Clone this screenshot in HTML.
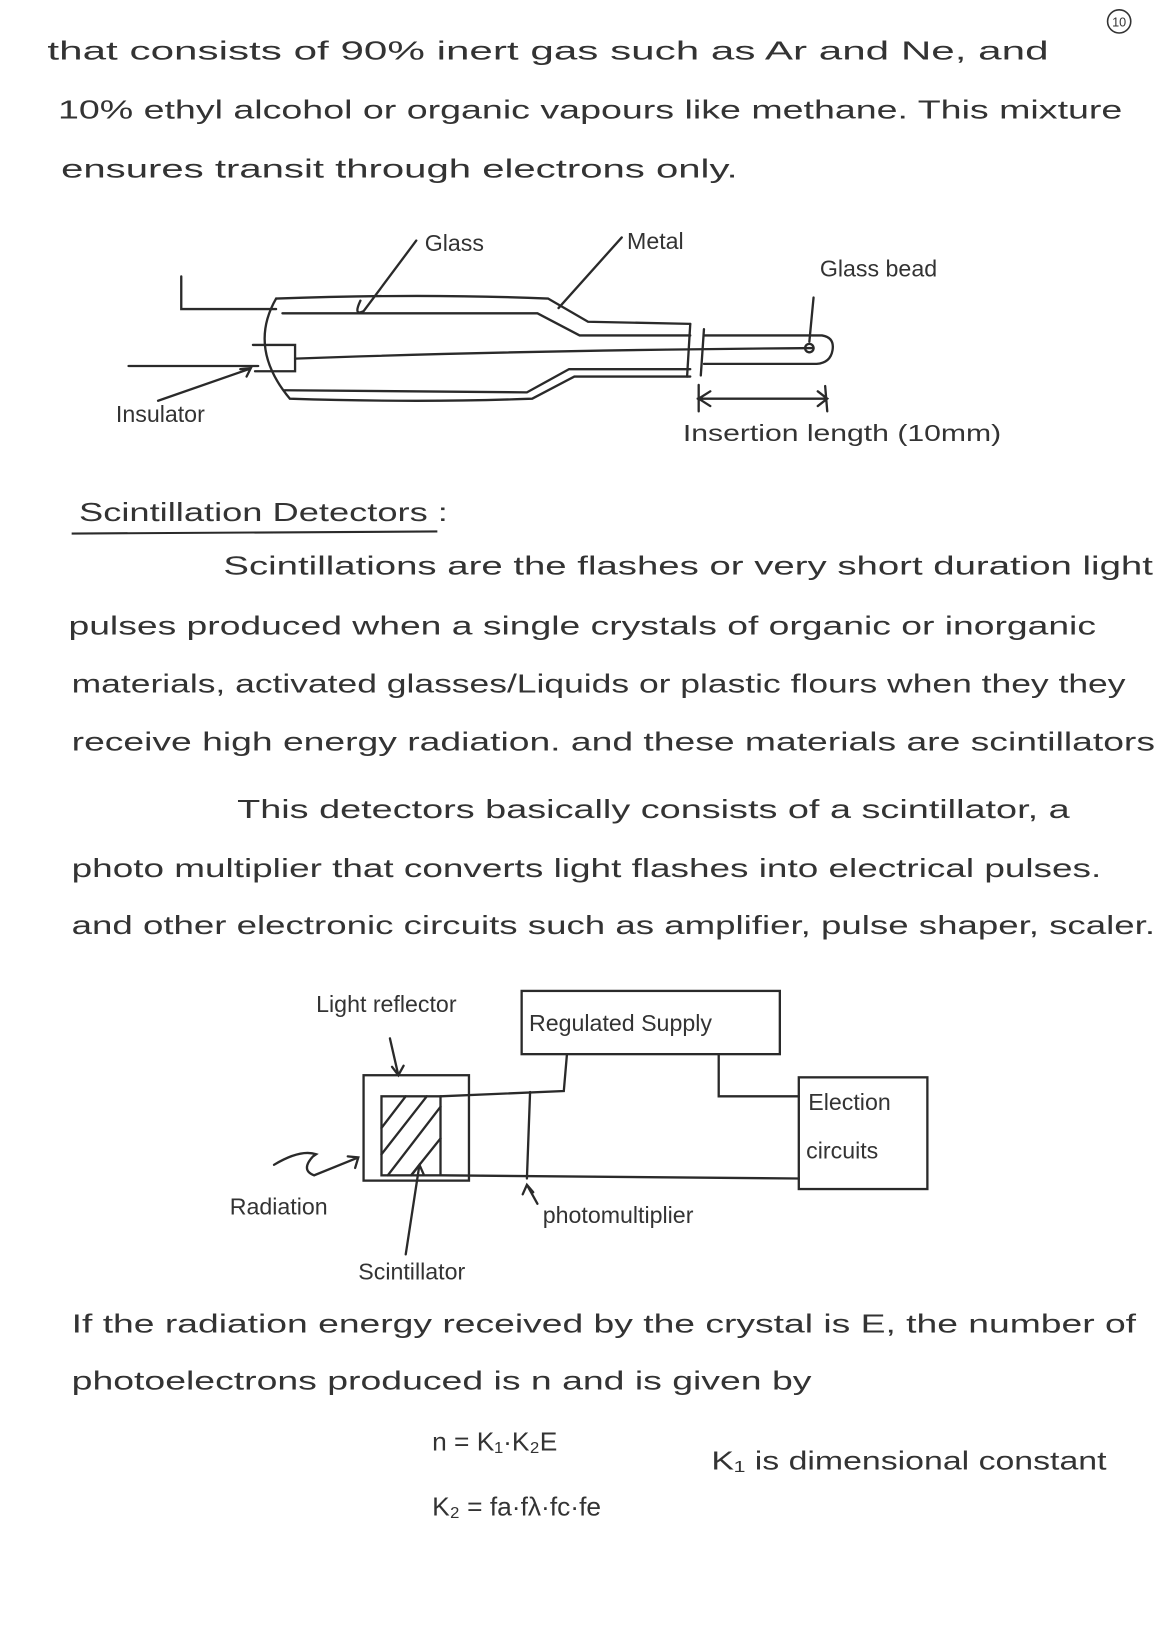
<!DOCTYPE html>
<html><head><meta charset="utf-8"><style>html,body{margin:0;padding:0;background:#fff}svg{display:block}</style></head>
<body>
<svg width="1155" height="1652" viewBox="0 0 1096 1567" xmlns="http://www.w3.org/2000/svg" font-family="Liberation Sans, sans-serif" fill="#333">
<rect width="1096" height="1567" fill="#fff"/>
<g font-size="25">
<text x="45" y="56" textLength="950" lengthAdjust="spacingAndGlyphs">that consists of 90% inert gas such as Ar and Ne, and</text>
<text x="55" y="112" textLength="1010" lengthAdjust="spacingAndGlyphs">10% ethyl alcohol or organic vapours like methane. This mixture</text>
<text x="58" y="168" textLength="642" lengthAdjust="spacingAndGlyphs">ensures transit through electrons only.</text>
</g>
<circle cx="1062" cy="20" r="11" fill="none" stroke="#333" stroke-width="1.5"/>
<text x="1062" y="25" font-size="12" text-anchor="middle">10</text>

<g fill="none" stroke="#2a2a2a" stroke-width="2.2" stroke-linecap="round">
<path d="M172 262 L172 293 L262 293"/>
<path d="M262 283 Q400 278 520 283 L558 305 L655 307"/>
<path d="M268 297 L510 297 L550 318 L655 318"/>
<path d="M270 370 L500 372 L540 350 L655 350"/>
<path d="M262 283 Q235 330 275 378 Q400 382 505 378 L545 357 L655 357"/>
<path d="M655 307 L652 357 M668 312 L665 356"/>
<path d="M668 318 L780 318 Q792 320 790 332 Q788 344 775 345 L668 345"/>
<path d="M122 347 L245 347 M280 340 Q500 332 772 330"/>
<path d="M240 327 L280 327 L280 352 L242 352"/>
<path d="M395 228 L345 295 Q335 300 342 285"/>
<path d="M590 225 L530 292"/>
<path d="M772 282 L768 324"/>
<circle cx="768" cy="330" r="4"/>
<path d="M150 380 L236 350 M228 350 L238 349 L234 357"/>
<path d="M663 365 L663 390 M662 378 L785 378 M674 371 L663 378 L674 385 M776 371 L785 378 L776 385 M783 366 L785 390"/>
</g>
<g font-size="22">
<text x="403" y="238">Glass</text>
<text x="595" y="236">Metal</text>
<text x="778" y="262">Glass bead</text>
<text x="110" y="400">Insulator</text>
<text x="648" y="418" textLength="302" lengthAdjust="spacingAndGlyphs">Insertion length (10mm)</text>
</g>

<text x="75" y="494" font-size="25" textLength="350" lengthAdjust="spacingAndGlyphs">Scintillation Detectors :</text>
<path d="M68 506 L415 504" stroke="#2a2a2a" stroke-width="2" fill="none"/>
<g font-size="25">
<text x="212" y="545" textLength="882" lengthAdjust="spacingAndGlyphs">Scintillations are the flashes or very short duration light</text>
<text x="65" y="602" textLength="975" lengthAdjust="spacingAndGlyphs">pulses produced when a single crystals of organic or inorganic</text>
<text x="68" y="657" textLength="1000" lengthAdjust="spacingAndGlyphs">materials, activated glasses/Liquids or plastic flours when they they</text>
<text x="68" y="712" textLength="1028" lengthAdjust="spacingAndGlyphs">receive high energy radiation. and these materials are scintillators</text>
<text x="225" y="776" textLength="790" lengthAdjust="spacingAndGlyphs">This detectors basically consists of a scintillator, a</text>
<text x="68" y="832" textLength="977" lengthAdjust="spacingAndGlyphs">photo multiplier that converts light flashes into electrical pulses.</text>
<text x="68" y="886" textLength="1028" lengthAdjust="spacingAndGlyphs">and other electronic circuits such as amplifier, pulse shaper, scaler.</text>
</g>

<g fill="none" stroke="#2a2a2a" stroke-width="2.2" stroke-linecap="round">
<rect x="495" y="940" width="245" height="60"/>
<path d="M370 985 L378 1020 M372 1012 L378 1020 L383 1011"/>
<rect x="345" y="1020" width="100" height="100"/>
<rect x="362" y="1040" width="56" height="75"/>
<path d="M362 1070 L385 1040 M362 1095 L405 1040 M368 1115 L418 1050 M390 1115 L418 1080"/>
<path d="M418 1040 L535 1035 L538 1000"/>
<path d="M503 1036 L500 1118"/>
<path d="M418 1115 L758 1118"/>
<path d="M682 1000 L682 1040 L758 1040"/>
<rect x="758" y="1022" width="122" height="106"/>
<path d="M260 1105 Q285 1090 300 1095 L297 1097 Q285 1110 298 1115 L340 1098 M330 1097 L340 1098 L337 1108"/>
<path d="M385 1190 L398 1105 M392 1113 L398 1105 L402 1114"/>
<path d="M510 1142 L500 1124 M496 1133 L500 1124 L506 1131"/>
</g>
<g font-size="22">
<text x="300" y="960">Light reflector</text>
<text x="502" y="978">Regulated Supply</text>
<text x="767" y="1053">Election</text>
<text x="765" y="1099">circuits</text>
<text x="218" y="1152">Radiation</text>
<text x="515" y="1160">photomultiplier</text>
<text x="340" y="1214">Scintillator</text>
</g>
<g font-size="25">
<text x="68" y="1264" textLength="1010" lengthAdjust="spacingAndGlyphs">If the radiation energy received by the crystal is E, the number of</text>
<text x="68" y="1318" textLength="702" lengthAdjust="spacingAndGlyphs">photoelectrons produced is n and is given by</text>
<text x="410" y="1376">n = K₁·K₂E</text>
<text x="675" y="1394" textLength="375" lengthAdjust="spacingAndGlyphs">K₁ is dimensional constant</text>
<text x="410" y="1438">K₂ = fa·fλ·fc·fe</text>
</g>
</svg>
</body></html>
